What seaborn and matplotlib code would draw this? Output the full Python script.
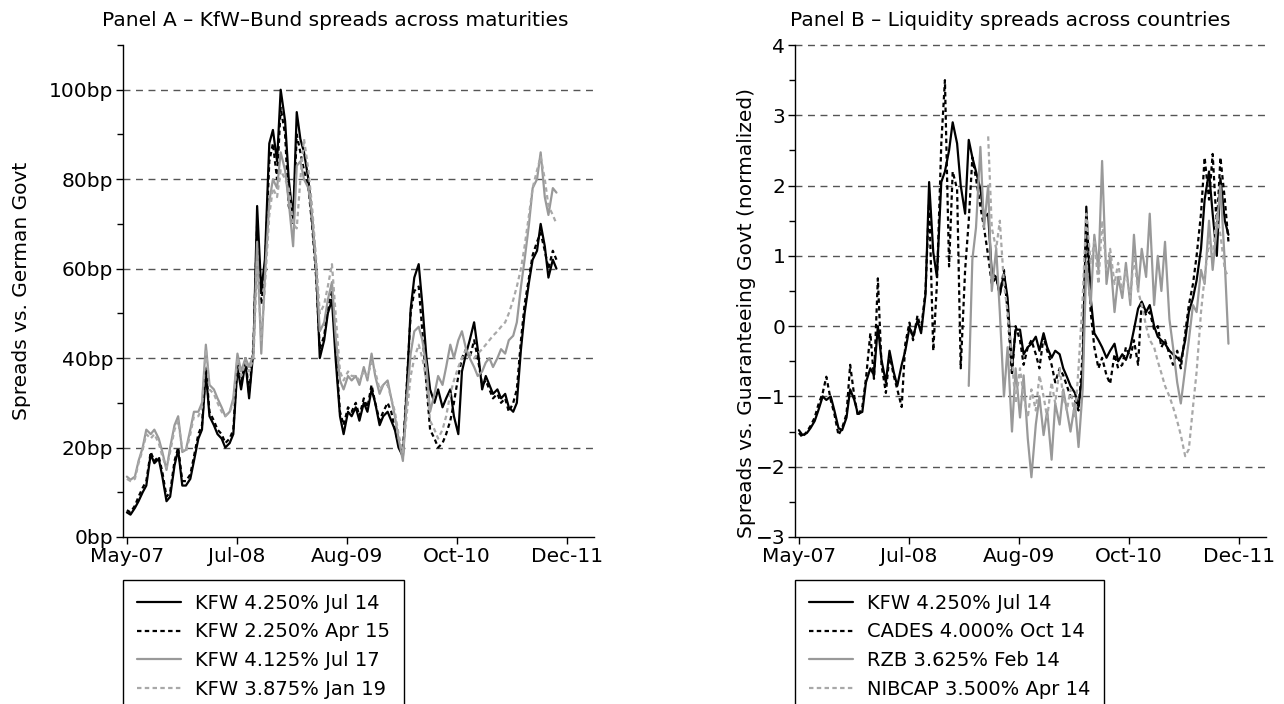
import numpy as np
import pandas as pd
import matplotlib
matplotlib.use("Agg")
import matplotlib.pyplot as plt
from matplotlib.ticker import MultipleLocator, FixedLocator
import seaborn as sns

# ---------------------------------------------
# data (semi-monthly readings, May-07 .. Nov-11)
# ---------------------------------------------
dates = pd.date_range("2007-05-01", periods=110, freq="SMS")

# Panel A - KfW-Bund spreads (bp)
kfw_4250_jul14 = [5.5, 5.0, 6.5, 8.0, 10.0, 11.5, 18.5, 16.5, 17.5, 13.5,
                  8.0, 9.0, 16.0, 19.5, 11.5, 11.5, 13.0, 17.0, 22.0, 24.0,
                  37.0, 27.0, 25.0, 23.0, 22.0, 20.0, 21.0, 23.0, 38.0, 33.0,
                  39.0, 31.0, 42.0, 74.0, 55.0, 62.0, 88.0, 91.0, 84.0, 100.0,
                  93.0, 80.0, 71.0, 95.0, 89.0, 86.0, 80.0, 71.0, 60.0, 40.0,
                  44.0, 50.0, 53.0, 40.0, 27.0, 23.0, 28.0, 27.0, 29.0, 26.0,
                  30.0, 28.0, 33.0, 30.0, 25.0, 27.0, 28.0, 26.0, 24.0, 20.0,
                  18.0, 32.0, 51.0, 58.0, 61.0, 52.0, 40.0, 33.0, 30.0, 33.0,
                  29.0, 31.0, 33.0, 27.0, 23.0, 37.0, 41.0, 44.0, 48.0, 42.0,
                  33.0, 36.0, 34.0, 32.0, 33.0, 31.0, 32.0, 29.0, 28.0, 30.0,
                  42.0, 50.0, 57.0, 62.0, 64.0, 70.0, 65.0, 58.0, 62.0, 60.0]
kfw_2250_apr15 = [6.0, 5.5, 7.0, 9.0, 11.0, 12.5, 19.0, 17.0, 18.0, 14.5,
                  9.0, 10.0, 17.0, 20.0, 12.5, 12.5, 14.0, 18.0, 23.0, 25.0,
                  38.0, 28.0, 26.0, 24.0, 23.0, 21.0, 22.0, 24.0, 39.0, 34.0,
                  40.0, 32.0, 43.0, 70.0, 52.0, 60.0, 84.0, 88.0, 80.0, 96.0,
                  90.0, 74.0, 70.0, 90.0, 86.0, 82.0, 78.0, 70.0, 58.0, 42.0,
                  45.0, 51.0, 55.0, 42.0, 28.0, 25.0, 29.0, 28.0, 30.0, 27.0,
                  31.0, 29.0, 34.0, 30.0, 26.0, 28.0, 30.0, 28.0, 24.0, 21.0,
                  19.0, 33.0, 50.0, 55.0, 56.0, 46.0, 34.0, 24.0, 22.0, 20.0,
                  21.0, 23.0, 26.0, 30.0, 36.0, 40.0, 42.0, 40.0, 44.0, 40.0,
                  34.0, 35.0, 33.0, 31.0, 32.0, 30.0, 31.0, 28.0, 30.0, 33.0,
                  44.0, 52.0, 58.0, 63.0, 66.0, 68.0, 64.0, 60.0, 64.0, 62.0]
kfw_4125_jul17 = [13.5, 12.8, 13.5, 17.0, 20.0, 24.0, 23.0, 24.0, 22.0, 19.0,
                  15.0, 20.0, 25.0, 27.0, 19.0, 19.5, 24.0, 28.0, 28.0, 30.0,
                  43.0, 34.0, 33.0, 31.0, 29.0, 27.0, 28.0, 31.0, 41.0, 37.0,
                  40.0, 38.0, 41.0, 66.0, 41.0, 58.0, 75.0, 80.0, 78.0, 86.0,
                  82.0, 75.0, 65.0, 83.0, 84.0, 80.0, 78.0, 72.0, 60.0, 46.0,
                  48.0, 53.0, 57.0, 45.0, 35.0, 33.0, 36.0, 35.0, 36.0, 34.0,
                  38.0, 35.0, 41.0, 36.0, 32.0, 34.0, 35.0, 31.0, 27.0, 22.0,
                  17.0, 30.0, 41.0, 46.0, 47.0, 44.0, 38.0, 28.0, 32.0, 36.0,
                  34.0, 38.0, 43.0, 40.0, 44.0, 46.0, 42.0, 40.0, 38.0, 36.0,
                  37.0, 39.0, 40.0, 38.0, 40.0, 42.0, 41.0, 44.0, 45.0, 48.0,
                  56.0, 62.0, 70.0, 78.0, 80.0, 86.0, 76.0, 72.0, 78.0, 77.0]
kfw_3875_jan19 = [13.0, 12.5, 13.0, 16.5, 19.5, 23.0, 22.0, 23.0, 21.0, 18.0,
                  15.5, 19.0, 24.0, 26.0, 19.5, 19.0, 23.0, 27.0, 27.0, 29.0,
                  42.0, 33.0, 32.0, 30.0, 28.0, 27.0, 28.0, 30.0, 40.0, 36.0,
                  39.0, 37.0, 40.0, 62.0, 44.0, 56.0, 72.0, 78.0, 76.0, 82.0,
                  80.0, 78.0, 70.0, 69.0, 80.0, 89.0, 82.0, 74.0, 62.0, 50.0,
                  52.0, 56.0, 61.0, 50.0, 37.0, 35.0, 37.0, 36.0, 36.0, 35.0,
                  37.0, 36.0, 39.0, 37.0, 33.0, 34.0, 34.0, 31.0, 28.0, 23.0,
                  19.0, 27.0, 36.0, 40.0, 43.0, 40.0, 35.0, 26.0, 24.0, 22.0,
                  24.0, 27.0, 32.0, 35.0, 38.0, 40.0, 42.0, 41.0, 40.0, 41.0,
                  42.0, 43.0, 44.0, 45.0, 46.0, 47.0, 48.0, 50.0, 53.0, 56.0,
                  60.0, 65.0, 72.0, 78.0, 82.0, 85.0, 80.0, 74.0, 72.0, 70.0]

# Panel B - liquidity spreads vs. guaranteeing govt (normalized)
kfw_b = [-1.48, -1.55, -1.52, -1.45, -1.35, -1.20, -1.00, -1.05, -1.00, -1.20,
         -1.45, -1.48, -1.30, -0.90, -1.05, -1.25, -1.22, -0.80, -0.60, -0.70,
         0.00, -0.48, -0.80, -0.35, -0.65, -0.85, -0.55, -0.35, -0.02, -0.15,
         0.08, -0.10, 0.45, 2.05, 1.05, 0.70, 2.05, 2.20, 2.50, 2.90,
         2.60, 2.00, 1.60, 2.65, 2.40, 2.20, 1.95, 1.55, 1.60, 0.75,
         0.70, 0.45, 0.75, 0.40, -0.60, -0.05, -0.05, -0.40, -0.30, -0.25,
         -0.15, -0.35, -0.10, -0.30, -0.45, -0.35, -0.40, -0.60, -0.72, -0.85,
         -0.95, -1.15, -0.65, 1.70, 0.40, -0.10, -0.20, -0.30, -0.45, -0.35,
         -0.25, -0.50, -0.40, -0.48, -0.30, -0.05, 0.25, 0.35, 0.20, 0.30,
         0.00, -0.15, -0.20, -0.25, -0.35, -0.40, -0.45, -0.50, -0.20, 0.20,
         0.40, 0.65, 1.10, 1.80, 2.20, 1.60, 1.00, 2.10, 1.50, 1.30]
cades_b = [-1.52, -1.58, -1.50, -1.42, -1.30, -1.12, -0.95, -0.72, -1.05, -1.25,
           -1.55, -1.45, -1.25, -0.55, -1.00, -1.28, -1.15, -0.75, -0.10, -0.75,
           0.68, -0.55, -0.95, -0.40, -0.70, -0.90, -1.15, -0.25, 0.05, -0.20,
           0.15, -0.05, 0.50, 1.80, -0.35, 0.60, 2.60, 3.50, 0.85, 2.20,
           1.95, -0.60, 0.80, 1.50, 2.40, 2.10, 1.70, 1.40, 1.00, 0.60,
           0.70, 0.45, 0.80, 0.20, -0.70, 0.00, -0.20, -0.55, -0.30, -0.20,
           -0.40, -0.60, -0.15, -0.35, -0.55, -0.80, -0.60, -0.70, -0.85, -1.00,
           -1.05, -1.20, -0.40, 1.50, 0.20, -0.30, -0.60, -0.45, -0.70, -0.82,
           -0.40, -0.60, -0.55, -0.30, -0.45, -0.20, -0.55, 0.35, 0.15, 0.20,
           -0.05, 0.00, -0.30, -0.20, -0.40, -0.55, -0.35, -0.60, -0.10, 0.30,
           0.60, 1.00, 1.60, 2.40, 1.80, 2.45, 1.40, 2.40, 1.80, 1.20]
rzb_b = [None] * 43 + [
         -0.85, 0.95, 1.40, 2.55, 1.40, 2.00, 0.50,
         1.10, 0.20, -1.00, -0.30, -1.50, -0.60, -1.30, -0.70, -1.60, -2.15,
         -1.40, -1.00, -1.55, -1.20, -1.90, -1.10, -1.40, -0.90, -1.20, -1.50,
         -1.10, -1.72, -0.90, 0.90, 0.30, 1.30, 0.80, 2.35, 0.60, 1.00,
         0.20, 0.70, 0.40, 0.90, 0.30, 1.30, 0.50, 1.10, 0.70, 1.60,
         0.30, 1.00, 0.50, 1.20, 0.10, -0.30, -0.80, -1.10, -0.60, -0.20,
         0.30, 0.20, 0.80, 0.60, 1.50, 0.80, 1.40, 2.00, 0.90, -0.25]
nibcap_b = [None] * 48 + [
            2.70, 1.40,
            1.10, 1.50, 0.60, 0.20, -0.50, -1.10, -0.60, -1.00, -1.30, -0.90,
            -1.20, -0.70, -1.00, -1.30, -0.80, -1.10, -0.60, -1.00, -1.20, -0.90,
            -1.30, -0.60, 0.40, 1.60, 0.90, 1.20, 0.60, 1.50, 0.80, 1.10,
            0.60, 0.90, 0.50, 0.80, 0.40, 1.00, 0.50, 0.30, 0.00, -0.20,
            -0.30, -0.50, -0.67, -0.85, -1.00, -1.15, -1.35, -1.55, -1.85, -1.75,
            -1.15, -0.65, 0.20, 0.70, 1.20, 1.00, 1.60, 1.30, 0.80, 0.70]

labels_a = ["KFW 4.250% Jul 14", "KFW 2.250% Apr 15", "KFW 4.125% Jul 17", "KFW 3.875% Jan 19"]
labels_b = ["KFW 4.250% Jul 14", "CADES 4.000% Oct 14", "RZB 3.625% Feb 14", "NIBCAP 3.500% Apr 14"]

tick_dates = pd.to_datetime(["2007-05-01", "2008-06-29", "2009-08-28", "2010-10-27", "2011-12-26"])
tick_labels = ["May-07", "Jul-08", "Aug-09", "Oct-10", "Dec-11"]

# ---------------------------------------------
# style
# ---------------------------------------------
sns.set_style("ticks")
plt.rcParams["font.family"] = ["DejaVu Sans"]
plt.rcParams["font.size"] = 14
plt.rcParams["text.color"] = "black"
plt.rcParams["xtick.color"] = "black"
plt.rcParams["ytick.color"] = "black"
plt.rcParams["axes.labelcolor"] = "black"

styles = [
    dict(color="black", linestyle="-"),
    dict(color="black", linestyle=(0, (2, 1.5))),
    dict(color="#999999", linestyle="-"),
    dict(color="#a8a8a8", linestyle=(0, (2, 1.5))),
]

fig = plt.figure(figsize=(12.84, 7.04), dpi=100)
ax_a = fig.add_axes([123 / 1284, 1 - 537 / 704, 471 / 1284, 492 / 704])
ax_b = fig.add_axes([795 / 1284, 1 - 537 / 704, 471 / 1284, 492 / 704])


def draw_panel(ax, series, labels):
    for vals, lab, st in zip(series, labels, styles):
        df = pd.DataFrame({"date": dates, "value": pd.to_numeric(pd.Series(vals), errors="coerce")})
        sns.lineplot(data=df, x="date", y="value", ax=ax, lw=1.6, label=lab, **st)
    ax.set_xlim(pd.Timestamp("2007-04-16"), pd.Timestamp("2012-04-08"))
    ax.xaxis.set_major_locator(FixedLocator(matplotlib.dates.date2num(tick_dates)))
    ax.set_xticklabels(tick_labels)
    ax.set_xlabel("")
    ax.set_ylabel("")
    sns.despine(ax=ax)
    ax.tick_params(axis="both", which="major", direction="out", length=5, width=1,
                   labelsize=14.5, pad=2, colors="black")
    ax.tick_params(axis="y", which="minor", direction="out", length=4, width=1, colors="black")
    for s in ["left", "bottom"]:
        ax.spines[s].set_linewidth(1)
        ax.spines[s].set_color("black")
    leg = ax.legend(loc="upper left", bbox_to_anchor=(ax.get_position().x0, 1 - 580 / 704),
                    bbox_transform=fig.transFigure, borderaxespad=0, fancybox=False,
                    edgecolor="black", framealpha=1, fontsize=14, handlelength=2.3,
                    handletextpad=0.7, labelspacing=0.5, borderpad=0.7)
    leg.get_frame().set_linewidth(1)


# Panel A
draw_panel(ax_a, [kfw_4250_jul14, kfw_2250_apr15, kfw_4125_jul17, kfw_3875_jan19], labels_a)
ax_a.set_ylim(0, 110)
ax_a.set_yticks([0, 20, 40, 60, 80, 100])
ax_a.set_yticklabels([f"{v}bp" for v in [0, 20, 40, 60, 80, 100]])
ax_a.yaxis.set_minor_locator(MultipleLocator(20, offset=10))
for v in [20, 40, 60, 80, 100]:
    ax_a.axhline(v, color="#555555", lw=1, linestyle=(0, (5, 4)), zorder=0)

# Panel B
draw_panel(ax_b, [kfw_b, cades_b, rzb_b, nibcap_b], labels_b)
ax_b.set_ylim(-3, 4)
ax_b.set_yticks(range(-3, 5))
ax_b.yaxis.set_minor_locator(MultipleLocator(1, offset=0.5))
for v in range(-2, 5):
    ax_b.axhline(v, color="#555555", lw=1, linestyle=(0, (5, 4)), zorder=0, clip_on=False)

# titles and y labels
fig.text(335 / 1284, 1 - 20 / 704, "Panel A \u2013 KfW\u2013Bund spreads across maturities",
         ha="center", va="center", fontsize=14.5)
fig.text(1010 / 1284, 1 - 20 / 704, "Panel B \u2013 Liquidity spreads across countries",
         ha="center", va="center", fontsize=14.5)
fig.text(22 / 1284, 1 - 291 / 704, "Spreads vs. German Govt", rotation=90,
         ha="center", va="center", fontsize=14.5)
fig.text(747 / 1284, 1 - 313 / 704, "Spreads vs. Guaranteeing Govt (normalized)", rotation=90,
         ha="center", va="center", fontsize=14.5)

fig.savefig("out.png", dpi=100)
